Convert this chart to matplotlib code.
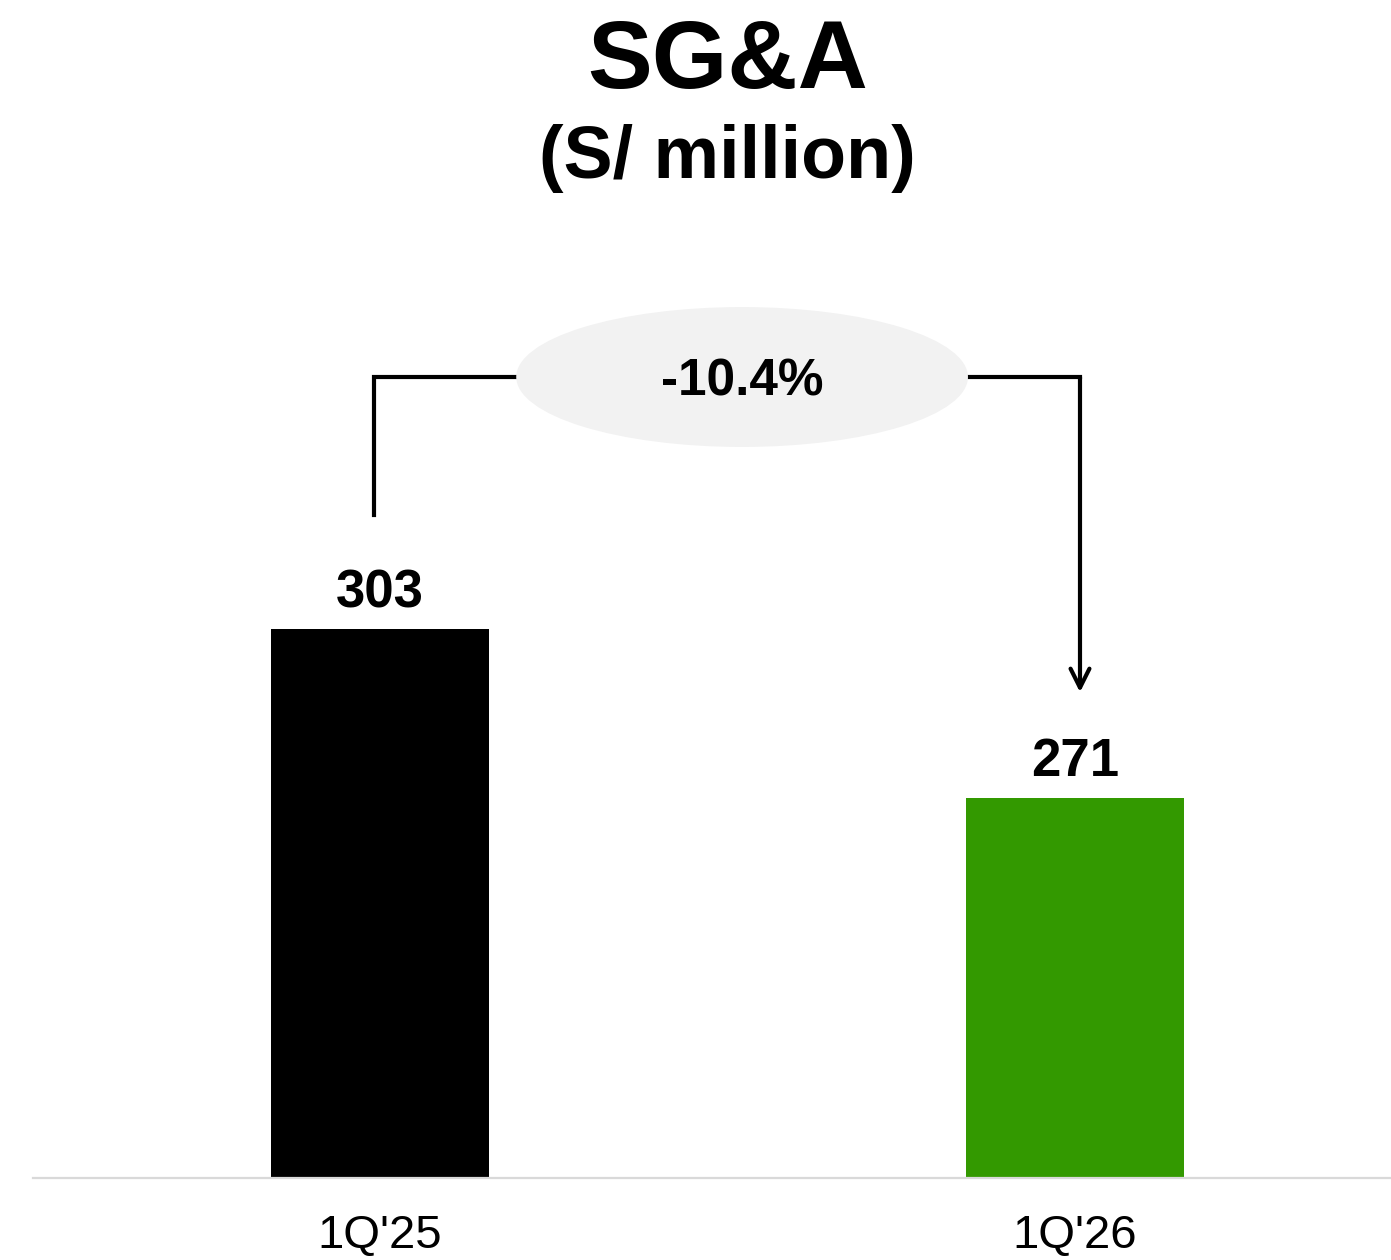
import matplotlib
matplotlib.use("Agg")
import matplotlib.pyplot as plt
from matplotlib.patches import Ellipse

plt.rcParams['font.family'] = ['Liberation Sans', 'DejaVu Sans']

categories = ["1Q'25", "1Q'26"]
values = [303, 271]
colors = ["#000000", "#339900"]
change_label = "-10.4%"
title = "SG&A"
subtitle = "(S/ million)"

W, H = 1391, 1260
fig = plt.figure(figsize=(W / 100, H / 100), dpi=100)
ax = fig.add_axes([33 / W, (H - 1178) / H, (W - 33) / W, 1178 / H])

x = list(range(len(categories)))
ax.bar(x, values, width=0.3137, color=colors, zorder=2)
ax.set_xlim(-0.4993, 1.4547)
ax.set_ylim(199, 422.1)

for xi, v in zip(x, values):
    ax.annotate(str(v), (xi, v), xytext=(0, 15.5), textcoords='offset points',
                ha='center', va='baseline', fontsize=38, fontweight='bold')

for s in ['left', 'right', 'top']:
    ax.spines[s].set_visible(False)
ax.spines['bottom'].set_color('#d9d9d9')
ax.spines['bottom'].set_linewidth(1.6)
ax.set_yticks([])
ax.set_xticks(x)
ax.set_xticklabels(categories, fontsize=34)
ax.tick_params(axis='x', length=0, pad=26)

# bracket with change label
top = max(values) + 47.7
ell_cx, ell_w, ell_h = 0.521, 0.650, 26.5
lx = x[0] - 0.0086
rx = x[1] + 0.0072
ax.plot([lx, lx, ell_cx - ell_w / 2], [values[0] + 21.6, top, top],
        color='black', lw=3, solid_joinstyle='miter', clip_on=False, zorder=3)
ax.plot([ell_cx + ell_w / 2, rx], [top, top],
        color='black', lw=3, solid_capstyle='projecting', clip_on=False, zorder=3)
ax.annotate('', xy=(rx, values[1] + 20.0), xytext=(rx, top),
            arrowprops=dict(arrowstyle='->', lw=3, color='black',
                            mutation_scale=34, shrinkA=0, shrinkB=0),
            annotation_clip=False)
ax.add_patch(Ellipse((ell_cx, top), ell_w, ell_h, facecolor='#f2f2f2',
                     edgecolor='none', zorder=4, clip_on=False))
ax.text(ell_cx, top - 0.9, change_label, ha='center', va='center', fontsize=37,
        fontweight='bold', zorder=5)

fig.text(728 / W, 1 - 88 / H, title, ha='center', va='baseline',
         fontsize=70, fontweight='bold')
fig.text(727 / W, 1 - 178 / H, subtitle, ha='center', va='baseline',
         fontsize=53, fontweight='bold')

fig.savefig('out.png', dpi=100)
